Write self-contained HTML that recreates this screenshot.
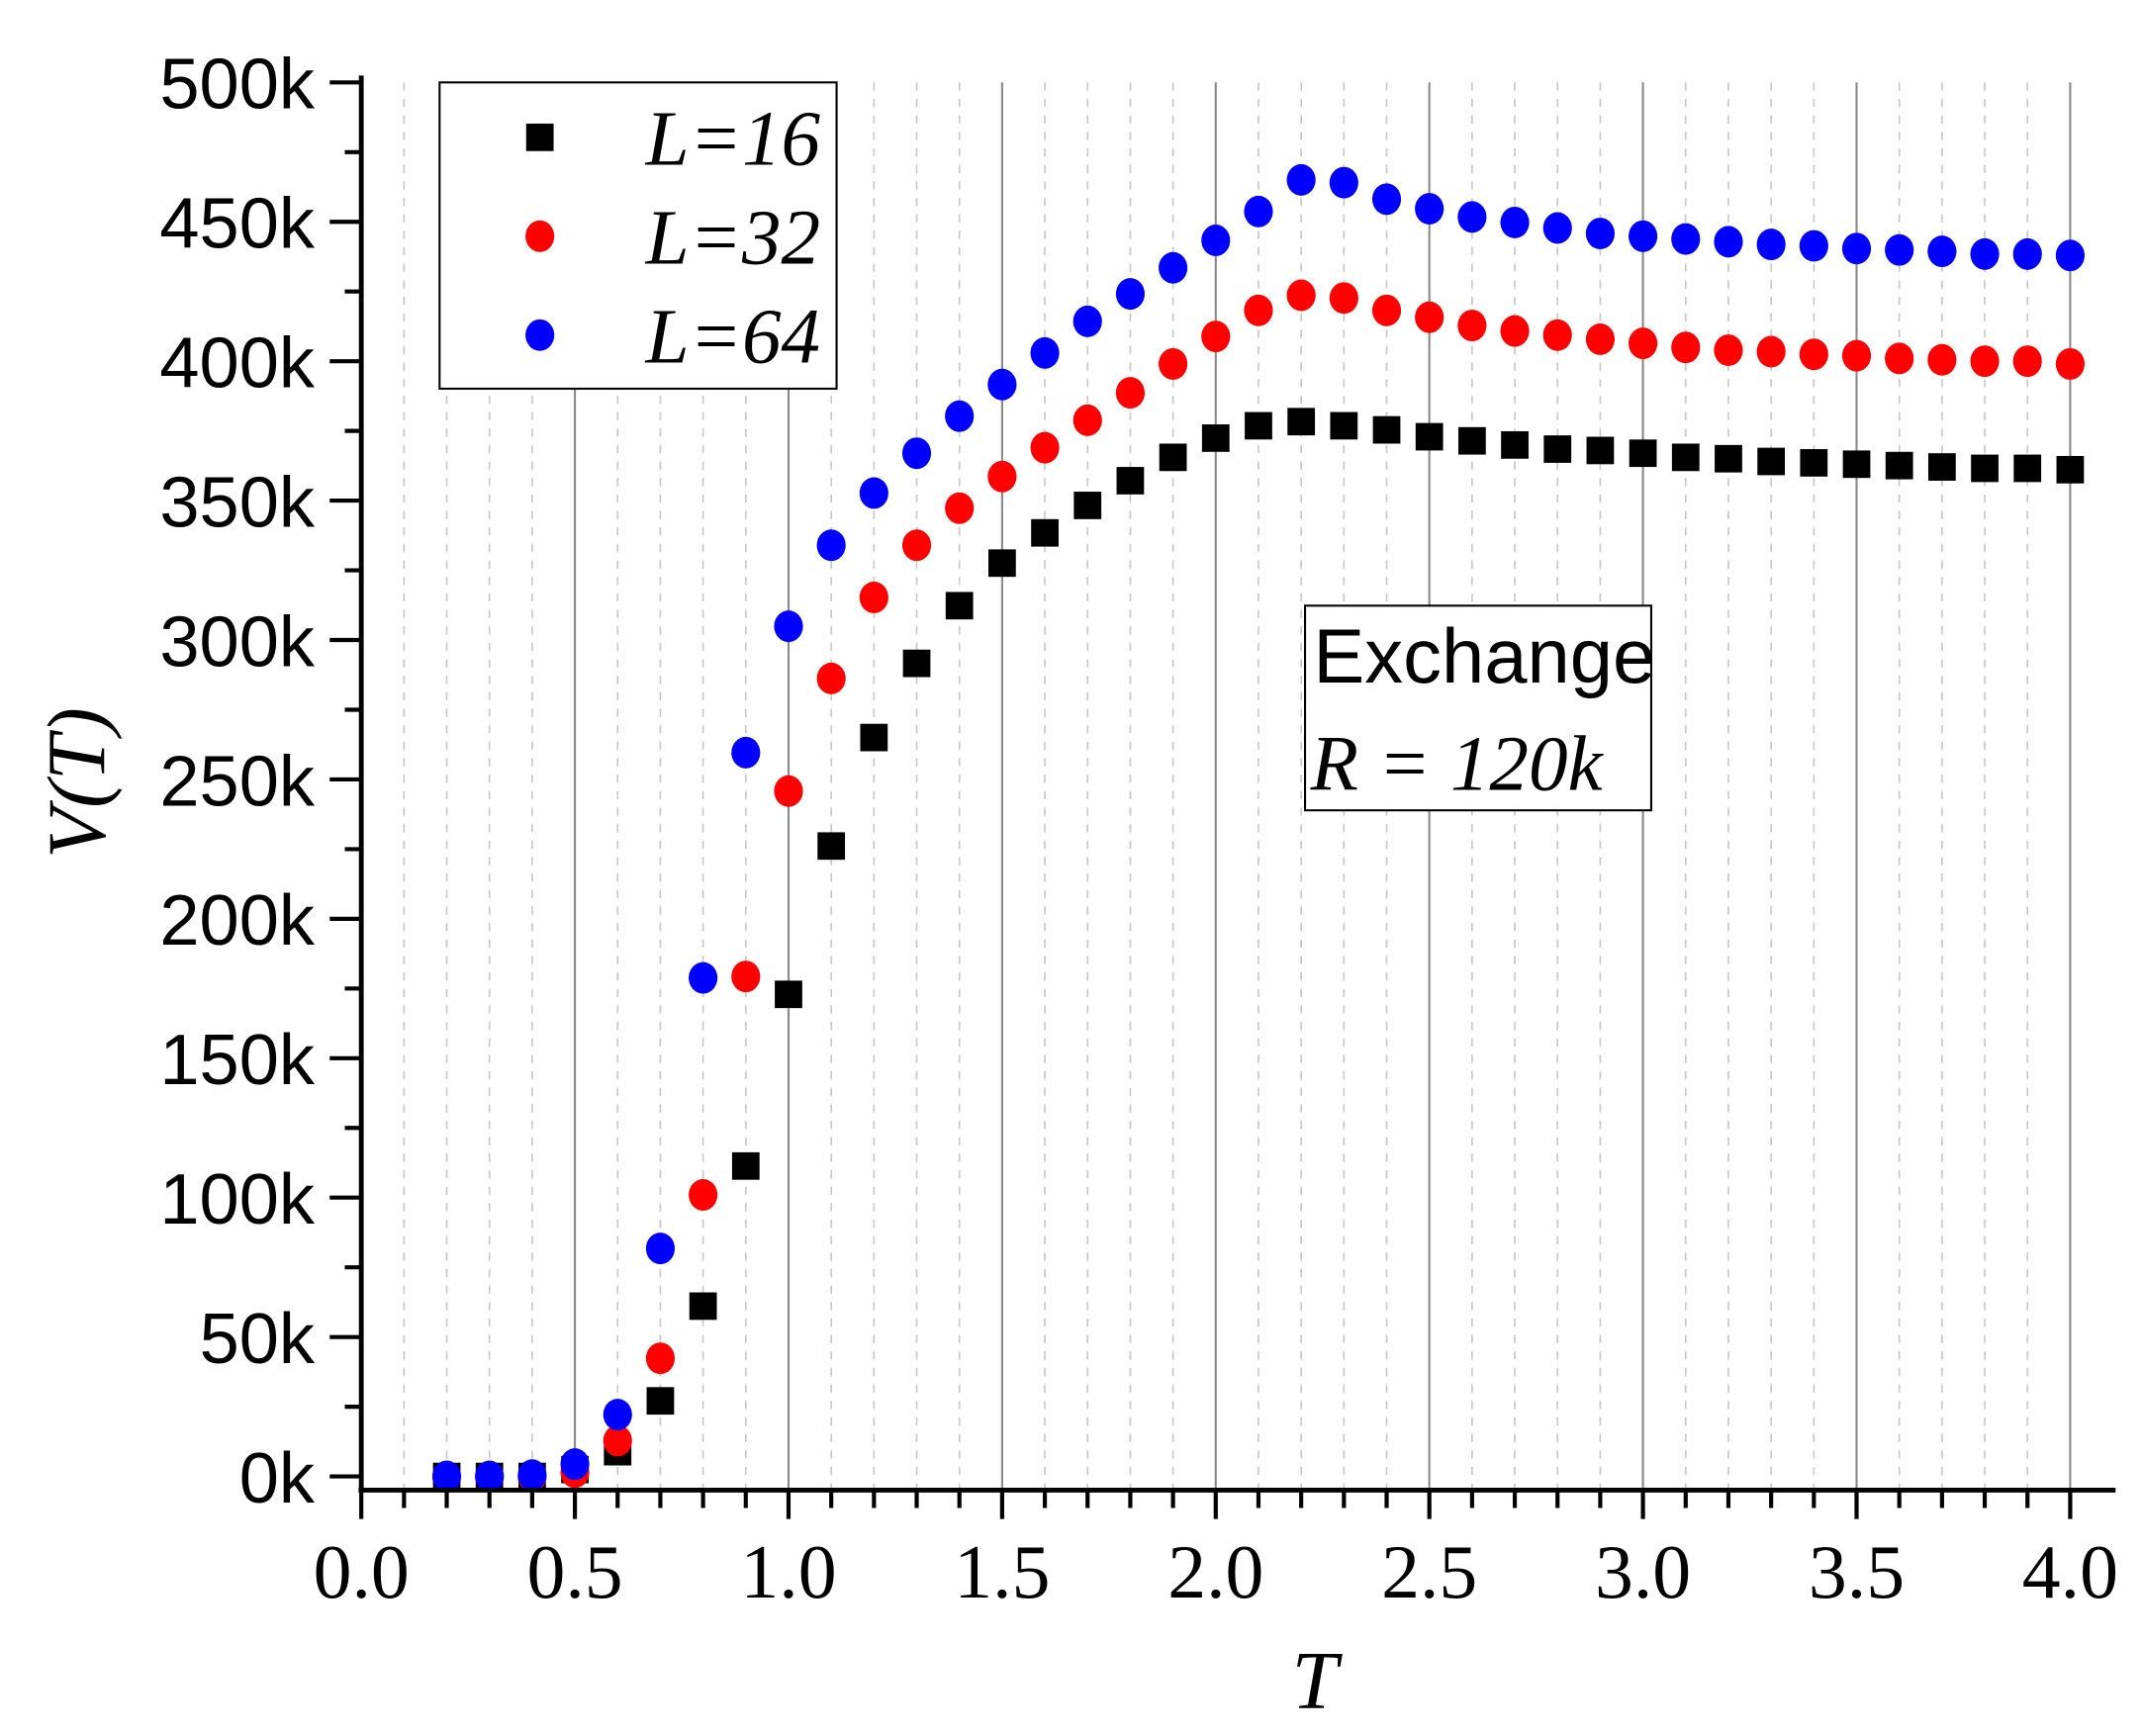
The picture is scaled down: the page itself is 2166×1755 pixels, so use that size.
<!DOCTYPE html>
<html><head><meta charset="utf-8"><style>html,body{margin:0;padding:0;background:#fff}svg{display:block}</style></head>
<body>
<svg width="2166" height="1755" viewBox="0 0 1560 1264" preserveAspectRatio="none" xmlns="http://www.w3.org/2000/svg" xmlns:xlink="http://www.w3.org/1999/xlink">
<defs>
<rect id="s" x="-10" y="-10" width="20" height="20"/>
<ellipse id="c" cx="0" cy="0" rx="10.5" ry="11.5"/>
</defs>
<rect width="1560" height="1264" fill="#fff"/>
<path d="M294.1 60V1085M325.2 60V1085M356.3 60V1085M387.4 60V1085M449.6 60V1085M480.7 60V1085M511.8 60V1085M542.9 60V1085M605.1 60V1085M636.2 60V1085M667.3 60V1085M698.4 60V1085M760.6 60V1085M791.7 60V1085M822.8 60V1085M853.9 60V1085M916.1 60V1085M947.2 60V1085M978.3 60V1085M1009.4 60V1085M1071.6 60V1085M1102.7 60V1085M1133.8 60V1085M1164.9 60V1085M1227.1 60V1085M1258.2 60V1085M1289.3 60V1085M1320.4 60V1085M1382.6 60V1085M1413.7 60V1085M1444.8 60V1085M1475.9 60V1085" stroke="#c8c8c8" stroke-width="1.2" stroke-dasharray="6,6" fill="none"/>
<path d="M418.5 60V1085M574 60V1085M729.5 60V1085M885 60V1085M1040.5 60V1085M1196 60V1085M1351.5 60V1085M1507 60V1085" stroke="#888" stroke-width="1.5" fill="none"/>

<g fill="#000">
<use xlink:href="#s" x="325.2" y="1075"/><use xlink:href="#s" x="356.3" y="1075"/><use xlink:href="#s" x="387.4" y="1075"/><use xlink:href="#s" x="418.5" y="1070"/><use xlink:href="#s" x="449.6" y="1057"/><use xlink:href="#s" x="480.7" y="1020"/><use xlink:href="#s" x="511.8" y="951"/><use xlink:href="#s" x="542.9" y="849"/><use xlink:href="#s" x="574" y="724"/><use xlink:href="#s" x="605.1" y="616"/><use xlink:href="#s" x="636.2" y="537"/><use xlink:href="#s" x="667.3" y="483"/><use xlink:href="#s" x="698.4" y="441"/><use xlink:href="#s" x="729.5" y="410"/><use xlink:href="#s" x="760.6" y="388"/><use xlink:href="#s" x="791.7" y="368"/><use xlink:href="#s" x="822.8" y="350"/><use xlink:href="#s" x="853.9" y="333"/><use xlink:href="#s" x="885" y="319"/><use xlink:href="#s" x="916.1" y="310"/><use xlink:href="#s" x="947.2" y="307"/><use xlink:href="#s" x="978.3" y="310"/><use xlink:href="#s" x="1009.4" y="313"/><use xlink:href="#s" x="1040.5" y="318"/><use xlink:href="#s" x="1071.6" y="321"/><use xlink:href="#s" x="1102.7" y="324"/><use xlink:href="#s" x="1133.8" y="327"/><use xlink:href="#s" x="1164.9" y="328"/><use xlink:href="#s" x="1196" y="330"/><use xlink:href="#s" x="1227.1" y="333"/><use xlink:href="#s" x="1258.2" y="334"/><use xlink:href="#s" x="1289.3" y="336"/><use xlink:href="#s" x="1320.4" y="337"/><use xlink:href="#s" x="1351.5" y="338"/><use xlink:href="#s" x="1382.6" y="339"/><use xlink:href="#s" x="1413.7" y="340"/><use xlink:href="#s" x="1444.8" y="341"/><use xlink:href="#s" x="1475.9" y="341"/><use xlink:href="#s" x="1507" y="342"/>
</g>
<g fill="#f00">
<use xlink:href="#c" x="325.2" y="1075"/><use xlink:href="#c" x="356.3" y="1075"/><use xlink:href="#c" x="387.4" y="1075"/><use xlink:href="#c" x="418.5" y="1072"/><use xlink:href="#c" x="449.6" y="1049"/><use xlink:href="#c" x="480.7" y="989"/><use xlink:href="#c" x="511.8" y="870"/><use xlink:href="#c" x="542.9" y="711"/><use xlink:href="#c" x="574" y="576"/><use xlink:href="#c" x="605.1" y="494"/><use xlink:href="#c" x="636.2" y="435"/><use xlink:href="#c" x="667.3" y="397"/><use xlink:href="#c" x="698.4" y="370"/><use xlink:href="#c" x="729.5" y="347"/><use xlink:href="#c" x="760.6" y="326"/><use xlink:href="#c" x="791.7" y="306"/><use xlink:href="#c" x="822.8" y="286"/><use xlink:href="#c" x="853.9" y="265"/><use xlink:href="#c" x="885" y="245"/><use xlink:href="#c" x="916.1" y="226"/><use xlink:href="#c" x="947.2" y="215"/><use xlink:href="#c" x="978.3" y="217"/><use xlink:href="#c" x="1009.4" y="226"/><use xlink:href="#c" x="1040.5" y="231"/><use xlink:href="#c" x="1071.6" y="237"/><use xlink:href="#c" x="1102.7" y="241"/><use xlink:href="#c" x="1133.8" y="244"/><use xlink:href="#c" x="1164.9" y="247"/><use xlink:href="#c" x="1196" y="250"/><use xlink:href="#c" x="1227.1" y="253"/><use xlink:href="#c" x="1258.2" y="255"/><use xlink:href="#c" x="1289.3" y="256"/><use xlink:href="#c" x="1320.4" y="258"/><use xlink:href="#c" x="1351.5" y="259"/><use xlink:href="#c" x="1382.6" y="261"/><use xlink:href="#c" x="1413.7" y="262"/><use xlink:href="#c" x="1444.8" y="263"/><use xlink:href="#c" x="1475.9" y="263"/><use xlink:href="#c" x="1507" y="265"/>
</g>
<g fill="#00f">
<use xlink:href="#c" x="325.2" y="1075"/><use xlink:href="#c" x="356.3" y="1075"/><use xlink:href="#c" x="387.4" y="1074"/><use xlink:href="#c" x="418.5" y="1066"/><use xlink:href="#c" x="449.6" y="1030"/><use xlink:href="#c" x="480.7" y="909"/><use xlink:href="#c" x="511.8" y="712"/><use xlink:href="#c" x="542.9" y="548"/><use xlink:href="#c" x="574" y="456"/><use xlink:href="#c" x="605.1" y="397"/><use xlink:href="#c" x="636.2" y="359"/><use xlink:href="#c" x="667.3" y="330"/><use xlink:href="#c" x="698.4" y="303"/><use xlink:href="#c" x="729.5" y="280"/><use xlink:href="#c" x="760.6" y="257"/><use xlink:href="#c" x="791.7" y="234"/><use xlink:href="#c" x="822.8" y="214"/><use xlink:href="#c" x="853.9" y="195"/><use xlink:href="#c" x="885" y="175"/><use xlink:href="#c" x="916.1" y="154"/><use xlink:href="#c" x="947.2" y="131"/><use xlink:href="#c" x="978.3" y="133"/><use xlink:href="#c" x="1009.4" y="145"/><use xlink:href="#c" x="1040.5" y="152"/><use xlink:href="#c" x="1071.6" y="158"/><use xlink:href="#c" x="1102.7" y="162"/><use xlink:href="#c" x="1133.8" y="166"/><use xlink:href="#c" x="1164.9" y="170"/><use xlink:href="#c" x="1196" y="172"/><use xlink:href="#c" x="1227.1" y="174"/><use xlink:href="#c" x="1258.2" y="176"/><use xlink:href="#c" x="1289.3" y="178"/><use xlink:href="#c" x="1320.4" y="179"/><use xlink:href="#c" x="1351.5" y="181"/><use xlink:href="#c" x="1382.6" y="182"/><use xlink:href="#c" x="1413.7" y="183"/><use xlink:href="#c" x="1444.8" y="185"/><use xlink:href="#c" x="1475.9" y="185"/><use xlink:href="#c" x="1507" y="186"/>
</g>

<g stroke="#000" stroke-width="3.5" fill="none">
<line x1="263" y1="55" x2="263" y2="1087"/>
<line x1="261" y1="1085" x2="1540" y2="1085"/>
</g>
<path stroke="#000" stroke-width="3" fill="none" d="M263 1085V1106M294.1 1085V1098M325.2 1085V1098M356.3 1085V1098M387.4 1085V1098M418.5 1085V1106M449.6 1085V1098M480.7 1085V1098M511.8 1085V1098M542.9 1085V1098M574 1085V1106M605.1 1085V1098M636.2 1085V1098M667.3 1085V1098M698.4 1085V1098M729.5 1085V1106M760.6 1085V1098M791.7 1085V1098M822.8 1085V1098M853.9 1085V1098M885 1085V1106M916.1 1085V1098M947.2 1085V1098M978.3 1085V1098M1009.4 1085V1098M1040.5 1085V1106M1071.6 1085V1098M1102.7 1085V1098M1133.8 1085V1098M1164.9 1085V1098M1196 1085V1106M1227.1 1085V1098M1258.2 1085V1098M1289.3 1085V1098M1320.4 1085V1098M1351.5 1085V1106M1382.6 1085V1098M1413.7 1085V1098M1444.8 1085V1098M1475.9 1085V1098M1507 1085V1106
M240 1075H263M251 1024.25H263M240 973.5H263M251 922.75H263M240 872H263M251 821.25H263M240 770.5H263M251 719.75H263M240 669H263M251 618.25H263M240 567.5H263M251 516.75H263M240 466H263M251 415.25H263M240 364.5H263M251 313.75H263M240 263H263M251 212.25H263M240 161.5H263M251 110.75H263M240 60H263"/>

<g font-family="Liberation Sans, sans-serif" font-size="52" text-anchor="end" textLength="0">
<text x="229" y="1094">0k</text><text x="229" y="992.5">50k</text><text x="229" y="891">100k</text><text x="229" y="789.5">150k</text><text x="229" y="688">200k</text><text x="229" y="586.5">250k</text><text x="229" y="485">300k</text><text x="229" y="383.5">350k</text><text x="229" y="282">400k</text><text x="229" y="180.5">450k</text><text x="229" y="79">500k</text>
</g>
<g font-family="Liberation Serif, serif" font-size="56" text-anchor="middle">
<text x="263" y="1163">0.0</text><text x="418.5" y="1163">0.5</text><text x="574" y="1163">1.0</text><text x="729.5" y="1163">1.5</text><text x="885" y="1163">2.0</text><text x="1040.5" y="1163">2.5</text><text x="1196" y="1163">3.0</text><text x="1351.5" y="1163">3.5</text><text x="1507" y="1163">4.0</text>
</g>
<text x="957" y="1244" font-family="Liberation Serif, serif" font-style="italic" font-size="60" text-anchor="middle">T</text>
<text transform="translate(76,570) rotate(-90)" font-family="Liberation Serif, serif" font-style="italic" font-size="60" text-anchor="middle">V(T)</text>
<rect x="320" y="60" width="289" height="223" fill="#fff" stroke="#000" stroke-width="1.5"/>
<rect x="383" y="90" width="20" height="20" fill="#000"/>
<ellipse cx="393" cy="172" rx="10.5" ry="11.5" fill="#f00"/>
<ellipse cx="393" cy="244" rx="10.5" ry="11.5" fill="#00f"/>
<g font-family="Liberation Serif, serif" font-style="italic" font-size="57">
<text x="470" y="120">L=16</text><text x="470" y="192">L=32</text><text x="470" y="264">L=64</text>
</g>
<rect x="950" y="441" width="252" height="149" fill="#fff" stroke="#000" stroke-width="1.5"/>
<text x="956" y="497" font-family="Liberation Sans, sans-serif" font-size="56">Exchange</text>
<text x="954" y="575" font-family="Liberation Serif, serif" font-style="italic" font-size="57">R = 120k</text>
</svg>
</body></html>
